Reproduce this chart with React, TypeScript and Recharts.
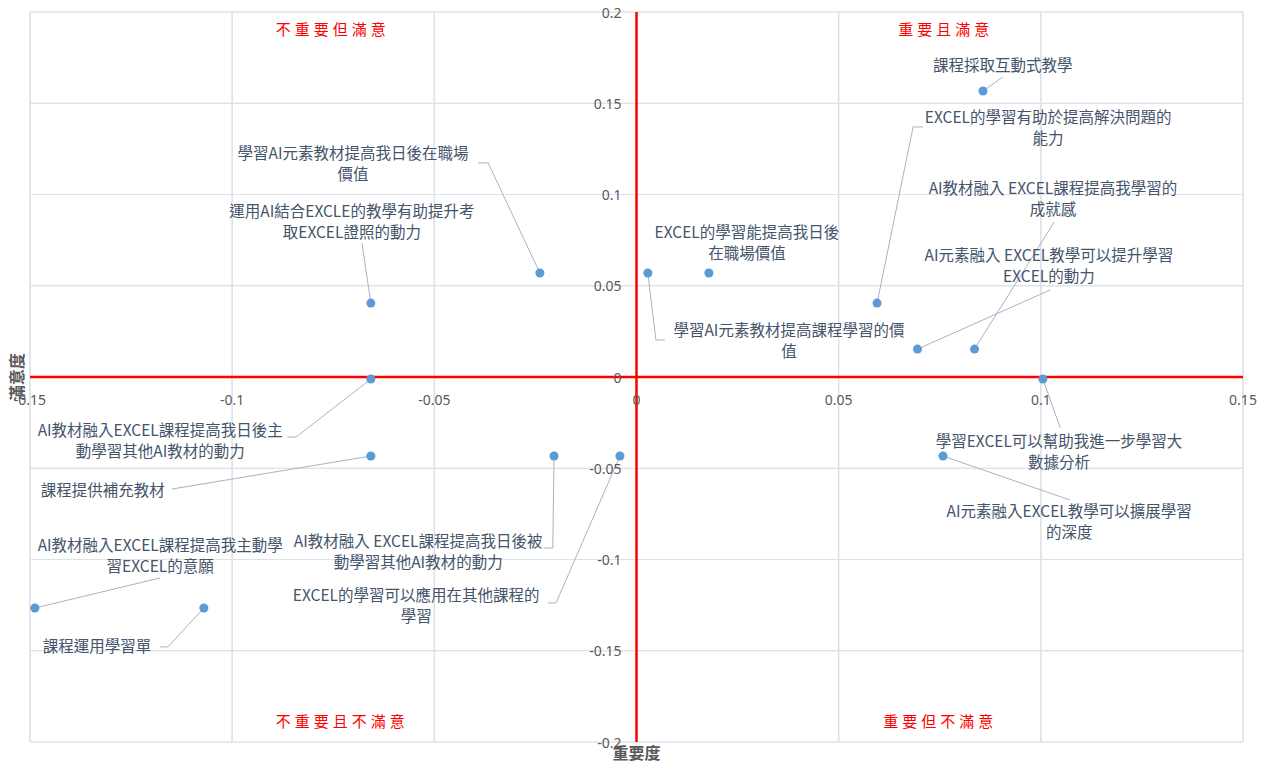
import React from 'react';
import { ScatterChart, Scatter, XAxis, YAxis, CartesianGrid, ReferenceLine, ReferenceDot } from 'recharts';

const itemNames = [
  '課程採取互動式教學',
  'EXCEL的學習有助於提高解決問題的能力',
  'AI教材融入 EXCEL課程提高我學習的成就感',
  'AI元素融入 EXCEL教學可以提升學習EXCEL的動力',
  '學習AI元素教材提高我日後在職場價值',
  '運用AI結合EXCLE的教學有助提升考取EXCEL證照的動力',
  'EXCEL的學習能提高我日後在職場價值',
  '學習AI元素教材提高課程學習的價值',
  '學習EXCEL可以幫助我進一步學習大數據分析',
  'AI元素融入EXCEL教學可以擴展學習的深度',
  'AI教材融入EXCEL課程提高我日後主動學習其他AI教材的動力',
  '課程提供補充教材',
  'AI教材融入 EXCEL課程提高我日後被動學習其他AI教材的動力',
  'EXCEL的學習可以應用在其他課程的學習',
  'AI教材融入EXCEL課程提高我主動學習EXCEL的意願',
  '課程運用學習單',
];

const importance = [0.0857, 0.0595, 0.0836, 0.0695, -0.0239, -0.0657, 0.0179, 0.0028, 0.1005, 0.0758, -0.0657, -0.0657, -0.0204, -0.0041, -0.1488, -0.107];
const satisfaction = [0.1567, 0.0405, 0.0153, 0.0153, 0.057, 0.0405, 0.057, 0.057, -0.0011, -0.0433, -0.0011, -0.0433, -0.0433, -0.0433, -0.1266, -0.1266];

const labelLines: string[][] = [
  ['課程採取互動式教學'],
  ['EXCEL的學習有助於提高解決問題的', '能力'],
  ['AI教材融入 EXCEL課程提高我學習的', '成就感'],
  ['AI元素融入 EXCEL教學可以提升學習', 'EXCEL的動力'],
  ['學習AI元素教材提高我日後在職場', '價值'],
  ['運用AI結合EXCLE的教學有助提升考', '取EXCEL證照的動力'],
  ['EXCEL的學習能提高我日後', '在職場價值'],
  ['學習AI元素教材提高課程學習的價', '值'],
  ['學習EXCEL可以幫助我進一步學習大', '數據分析'],
  ['AI元素融入EXCEL教學可以擴展學習', '的深度'],
  ['AI教材融入EXCEL課程提高我日後主', '動學習其他AI教材的動力'],
  ['課程提供補充教材'],
  ['AI教材融入 EXCEL課程提高我日後被', '動學習其他AI教材的動力'],
  ['EXCEL的學習可以應用在其他課程的', '學習'],
  ['AI教材融入EXCEL課程提高我主動學', '習EXCEL的意願'],
  ['課程運用學習單'],
];

const labelX = [0.0906, 0.1018, 0.103, 0.102, -0.0701, -0.0704, 0.0273, 0.0377, 0.1045, 0.107, -0.1178, -0.132, -0.054, -0.0545, -0.1178, -0.1334];
const labelY = [0.1715, 0.1375, 0.0981, 0.0614, 0.1173, 0.0855, 0.074, 0.0203, -0.04, -0.0784, -0.0345, -0.0614, -0.0948, -0.1244, -0.097, -0.1468];

const leaderPaths: [number, number][][] = [
  [[0.0906, 0.1644]],
  [[0.0684, 0.137], [0.0709, 0.137]],
  [[0.1033, 0.0849]],
  [[0.1023, 0.0477]],
  [[-0.0367, 0.1173], [-0.0392, 0.1173]],
  [[-0.0679, 0.0734]],
  [],
  [[0.0048, 0.0203], [0.007, 0.0203]],
  [[0.1048, -0.0279]],
  [[0.1072, -0.0674]],
  [[-0.0842, -0.0329], [-0.0864, -0.0329]],
  [[-0.1149, -0.0614]],
  [[-0.0207, -0.0937], [-0.0229, -0.0937]],
  [[-0.0199, -0.1238], [-0.0219, -0.1238]],
  [[-0.1178, -0.1101]],
  [[-0.1159, -0.1479], [-0.1178, -0.1479]],
];

const xTicks = [-0.15, -0.1, -0.05, 0, 0.05, 0.1, 0.15];
const yTicks = [-0.2, -0.15, -0.1, -0.05, 0, 0.05, 0.1, 0.15, 0.2];

const quadrantNames = ['不重要但滿意', '重要且滿意', '不重要且不滿意', '重要但不滿意'];
const quadrantX = [-0.0751, 0.0765, -0.0728, 0.0751];
const quadrantY = [0.1912, 0.1912, -0.188, -0.188];

const xTitle = '重要度';
const yTitle = '滿意度';

const points = itemNames.map((name, i) => ({ name, x: importance[i], y: satisfaction[i] }));

const CJK = '"Noto Sans CJK TC", "Noto Sans", sans-serif';
const TEXT_COLOR = '#44546A';
const LEADER = '#A9B3C4';

export default function App() {
  return (
    <div style={{ position: 'absolute', left: 0, top: 0, width: 1266, height: 764, background: '#fff' }}>
      <ScatterChart width={1266} height={764} margin={{ top: 12, right: 23, bottom: 22, left: 30 }}>
        <XAxis type="number" dataKey="x" domain={[-0.15, 0.15]} ticks={xTicks} hide allowDataOverflow />
        <YAxis type="number" dataKey="y" domain={[-0.2, 0.2]} ticks={yTicks} hide allowDataOverflow />
        <CartesianGrid stroke="#DDE1E8" strokeWidth={1.2} />
        {xTicks.map((v) => (
          <ReferenceLine key={'gx' + v} x={v} stroke="#DDE1E8" strokeWidth={1.2} />
        ))}
        {yTicks.map((v) => (
          <ReferenceLine key={'gy' + v} y={v} stroke="#DDE1E8" strokeWidth={1.2} />
        ))}
        <ReferenceLine x={0} stroke="#FF0000" strokeWidth={2.5} />
        <ReferenceLine y={0} stroke="#FF0000" strokeWidth={2.5} />
        {leaderPaths.map((path, i) => {
          const pts: [number, number][] = [[importance[i], satisfaction[i]], ...path];
          return pts.slice(0, -1).map((p, j) => (
            <ReferenceLine
              key={'ld' + i + '-' + j}
              segment={[{ x: p[0], y: p[1] }, { x: pts[j + 1][0], y: pts[j + 1][1] }]}
              stroke={LEADER}
              strokeWidth={1}
            />
          ));
        })}
        {xTicks.map((v) => (
          <ReferenceDot
            key={'tx' + v}
            x={v}
            y={0}
            r={0}
            shape={(p: any) => (
              <text x={p.cx} y={p.cy + 22} textAnchor="middle" dominantBaseline="central" fontSize={14} fill="#595959" fontFamily='"Noto Sans", sans-serif'>
                {String(v)}
              </text>
            )}
          />
        ))}
        {yTicks.map((v) => (
          <ReferenceDot
            key={'ty' + v}
            x={0}
            y={v}
            r={0}
            shape={(p: any) => (
              <text x={p.cx - 15} y={p.cy} textAnchor="end" dominantBaseline="central" fontSize={14} fill="#595959" fontFamily='"Noto Sans", sans-serif'>
                {String(v)}
              </text>
            )}
          />
        ))}
        {quadrantNames.map((q, i) => (
          <ReferenceDot
            key={'q' + i}
            x={quadrantX[i]}
            y={quadrantY[i]}
            r={0}
            shape={(p: any) => (
              <text x={p.cx} y={p.cy} textAnchor="middle" dominantBaseline="central" fontSize={15} letterSpacing={4} fill="#FF0000" fontFamily={CJK}>
                {q}
              </text>
            )}
          />
        ))}
        <ReferenceDot
          x={-0.15}
          y={0}
          r={0}
          shape={(p: any) => (
            <text x={p.cx - 14} y={p.cy} transform={`rotate(-90 ${p.cx - 14} ${p.cy})`} textAnchor="middle" dominantBaseline="central" fontSize={16} fontWeight={700} fill="#595959" fontFamily={CJK}>
              {yTitle}
            </text>
          )}
        />
        <ReferenceDot
          x={0}
          y={-0.2}
          r={0}
          shape={(p: any) => (
            <text x={p.cx} y={p.cy + 10} textAnchor="middle" dominantBaseline="central" fontSize={16} fontWeight={700} fill="#595959" fontFamily={CJK}>
              {xTitle}
            </text>
          )}
        />
        {labelLines.map((lines, i) => (
          <ReferenceDot
            key={'lb' + i}
            x={labelX[i]}
            y={labelY[i]}
            r={0}
            shape={(p: any) => (
              <text textAnchor="middle" fontSize={15.5} fill={TEXT_COLOR} fontFamily={CJK}>
                {lines.map((ln, k) => (
                  <tspan key={k} x={p.cx} y={p.cy - ((lines.length - 1) * 21) / 2 + k * 21} dominantBaseline="central">
                    {ln}
                  </tspan>
                ))}
              </text>
            )}
          />
        ))}
        <Scatter data={points} fill="#5B9BD5" isAnimationActive={false} />
      </ScatterChart>
    </div>
  );
}
